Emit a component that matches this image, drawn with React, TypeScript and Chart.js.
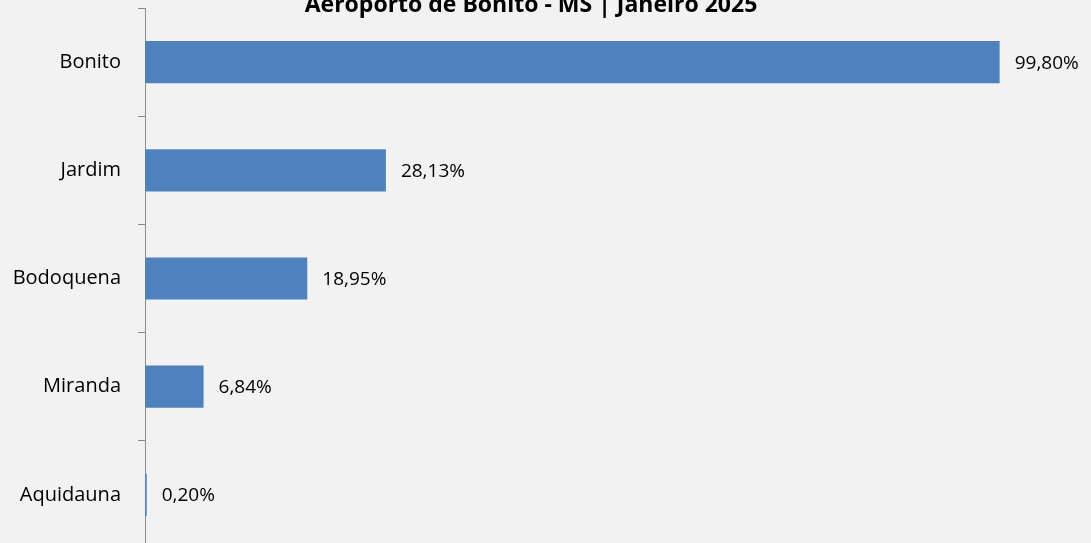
import React, { useEffect, useRef } from "react";
import { Chart, registerables } from "chart.js";

Chart.register(...registerables);

const categories = ["Bonito", "Jardim", "Bodoquena", "Miranda", "Aquidauna"];
const values = [99.8, 28.13, 18.95, 6.84, 0.2];
const valueLabels = ["99,80%", "28,13%", "18,95%", "6,84%", "0,20%"];
const titleText = "Aeroporto de Bonito - MS | Janeiro 2025";

const FONT = "'Open Sans', 'Noto Sans', sans-serif";

export default function App() {
  const ref = useRef<HTMLCanvasElement | null>(null);

  useEffect(() => {
    document.body.style.margin = "0";
    document.body.style.background = "#f2f2f2";
    document.body.style.overflow = "hidden";
    const canvas = ref.current;
    if (!canvas) return;

    const labelPlugin = {
      id: "valueLabels",
      afterDatasetsDraw(chart: any) {
        const ctx = chart.ctx;
        const meta = chart.getDatasetMeta(0);
        ctx.save();
        ctx.font = `19px ${FONT}`;
        ctx.fillStyle = "#000";
        ctx.textAlign = "left";
        ctx.textBaseline = "middle";
        meta.data.forEach((bar: any, i: number) => {
          ctx.fillText(valueLabels[i], bar.x + 15, bar.y + 1);
        });
        ctx.restore();
      },
    };

    const titlePlugin = {
      id: "cutTitle",
      afterDraw(chart: any) {
        const ctx = chart.ctx;
        ctx.save();
        ctx.font = `bold 23px ${FONT}`;
        ctx.fillStyle = "#000";
        ctx.textAlign = "center";
        ctx.textBaseline = "alphabetic";
        ctx.fillText(titleText, 531, 12);
        ctx.restore();
      },
    };

    const chart = new Chart(canvas, {
      type: "bar",
      data: {
        labels: categories,
        datasets: [
          {
            data: values,
            backgroundColor: "#4f81bd",
            borderWidth: 0,
            categoryPercentage: 1,
            barPercentage: 0.39,
          },
        ],
      },
      options: {
        indexAxis: "y",
        animation: false,
        responsive: false,
        maintainAspectRatio: false,
        layout: { padding: { top: 8, bottom: 11, left: 0, right: 4 } },
        plugins: {
          legend: { display: false },
          tooltip: { enabled: false },
          title: { display: false },
        },
        scales: {
          x: {
            display: false,
            min: 0,
            max: 110,
          },
          y: {
            afterFit(scale: any) {
              scale.width = 145;
              scale.paddingTop = 0;
              scale.paddingBottom = 0;
            },
            border: { display: true, color: "#8c8c8c", width: 1 },
            grid: {
              offset: true,
              drawOnChartArea: false,
              drawTicks: true,
              tickLength: 7,
              color: "#8c8c8c",
            },
            ticks: {
              color: "#000",
              padding: 17,
              font: { family: FONT, size: 20 },
            },
          },
        },
      },
      plugins: [labelPlugin, titlePlugin],
    });

    return () => chart.destroy();
  }, []);

  return (
    <div style={{ position: "fixed", left: 0, top: 0, width: 1091, height: 560 }}>
      <canvas ref={ref} width={1091} height={560} style={{ width: 1091, height: 560 }} />
    </div>
  );
}
